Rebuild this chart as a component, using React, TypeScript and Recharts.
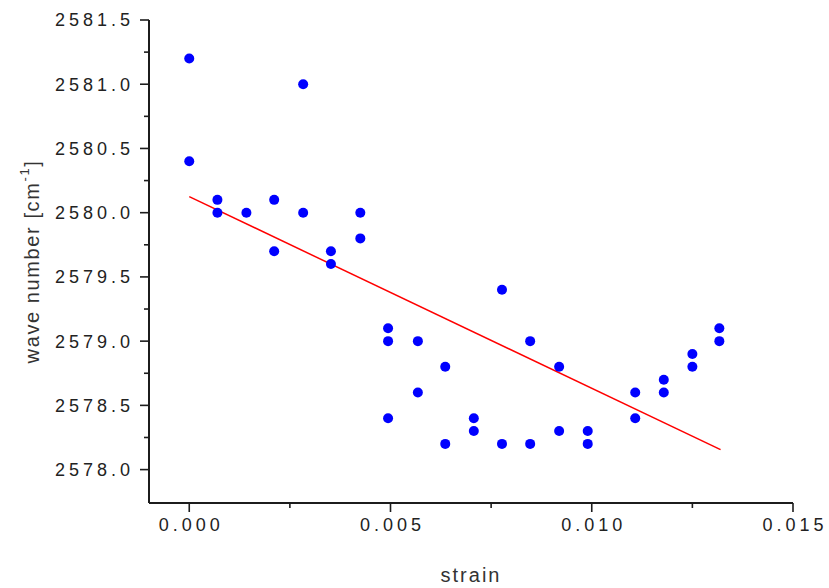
import { Scatter, ScatterChart, XAxis, YAxis } from "recharts"

// strain values of each measured point (columns of the scan)
const strain = [
  0, 0,
  0.0007, 0.0007,
  0.00142,
  0.00211, 0.00211,
  0.00283, 0.00283,
  0.00352, 0.00352,
  0.00425, 0.00425,
  0.00494, 0.00494, 0.00494,
  0.00568, 0.00568,
  0.00636, 0.00636,
  0.00707, 0.00707,
  0.00777, 0.00777,
  0.00847, 0.00847,
  0.00919, 0.00919,
  0.0099, 0.0099,
  0.01108, 0.01108,
  0.01179, 0.01179,
  0.0125, 0.0125,
  0.01317, 0.01317,
]

// wave number [cm-1] for each point above
const waveNumber = [
  2581.2, 2580.4,
  2580.1, 2580.0,
  2580.0,
  2580.1, 2579.7,
  2581.0, 2580.0,
  2579.7, 2579.6,
  2580.0, 2579.8,
  2579.1, 2579.0, 2578.4,
  2579.0, 2578.6,
  2578.8, 2578.2,
  2578.4, 2578.3,
  2579.4, 2578.2,
  2579.0, 2578.2,
  2578.8, 2578.3,
  2578.3, 2578.2,
  2578.6, 2578.4,
  2578.7, 2578.6,
  2578.9, 2578.8,
  2579.1, 2579.0,
]

// linear fit end points
const fitStrain = [0, 0.0132]
const fitWave = [2580.125, 2578.156]

const xMajorTicks = [0, 0.005, 0.01, 0.015]
const xMinorTicks = [0.0025, 0.0075, 0.0125]
const yMajorTicks = [2578.0, 2578.5, 2579.0, 2579.5, 2580.0, 2580.5, 2581.0, 2581.5]
const yMinorTicks = [2578.25, 2578.75, 2579.25, 2579.75, 2580.25, 2580.75, 2581.25]

const points = strain.map((s, i) => ({ x: s, y: waveNumber[i] }))
const fit = fitStrain.map((s, i) => ({ x: s, y: fitWave[i] }))

const AXIS = "#1c1c1c"
const FONT = "'Liberation Sans', Arial, sans-serif"
const TICK_SIZE = 9
const TICK_MARGIN = 6

const near = (v: number, list: number[]) => list.some((t) => Math.abs(t - v) < 1e-9)

function YTick(props: any) {
  const { x, y, payload } = props
  const axisX = x + TICK_SIZE + TICK_MARGIN
  const major = near(payload.value, yMajorTicks)
  return (
    <g>
      <line x1={axisX - (major ? 9 : 5)} x2={axisX} y1={y} y2={y} stroke={AXIS} strokeWidth={1.6} />
      {major && (
        <text x={x} y={y} dy="0.36em" textAnchor="end" fill="#222" fontSize={18} letterSpacing={4} fontFamily={FONT}>
          {payload.value.toFixed(1)}
        </text>
      )}
    </g>
  )
}

function XTick(props: any) {
  const { x, y, payload } = props
  const axisY = y - TICK_SIZE - TICK_MARGIN
  const major = near(payload.value, xMajorTicks)
  return (
    <g>
      <line x1={x} x2={x} y1={axisY} y2={axisY + (major ? 9 : 5)} stroke={AXIS} strokeWidth={1.6} />
      {major && (
        <text x={x + 2} y={y} dy="0.72em" textAnchor="middle" fill="#222" fontSize={18} letterSpacing={4} fontFamily={FONT}>
          {payload.value.toFixed(3)}
        </text>
      )}
    </g>
  )
}

function YTitle(props: any) {
  const { viewBox } = props
  const cy = viewBox.y + viewBox.height / 2
  const cx = 32
  return (
    <text
      x={cx}
      y={cy}
      dy="0.35em"
      transform={`rotate(-90 ${cx} ${cy})`}
      textAnchor="middle"
      fill="#333"
      fontSize={20}
      letterSpacing={1.6}
      fontFamily={FONT}
    >
      wave number [cm
      <tspan fontSize={13} dy="-10">-1</tspan>
      <tspan dy="10">]</tspan>
    </text>
  )
}

function XTitle(props: any) {
  const { viewBox } = props
  const cx = viewBox.x + viewBox.width / 2
  return (
    <text x={cx} y={582} textAnchor="middle" fill="#333" fontSize={20} letterSpacing={2} fontFamily={FONT}>
      strain
    </text>
  )
}

export default function App() {
  return (
    <div style={{ position: "absolute", left: 0, top: 0, width: 829, height: 588, background: "#fff" }}>
      <ScatterChart width={829} height={588} margin={{ top: 20, right: 36, bottom: 0, left: 0 }}>
        <XAxis
          type="number"
          dataKey="x"
          domain={[-0.001, 0.015]}
          ticks={[...xMajorTicks, ...xMinorTicks].sort((a, b) => a - b)}
          interval={0}
          height={85}
          tickSize={TICK_SIZE}
          tickMargin={TICK_MARGIN}
          tickLine={false}
          tick={<XTick />}
          axisLine={{ stroke: AXIS, strokeWidth: 2 }}
          label={<XTitle />}
        />
        <YAxis
          type="number"
          dataKey="y"
          domain={[2577.74, 2581.5]}
          ticks={[...yMajorTicks, ...yMinorTicks].sort((a, b) => a - b)}
          interval={0}
          width={149}
          tickSize={TICK_SIZE}
          tickMargin={TICK_MARGIN}
          tickLine={false}
          tick={<YTick />}
          axisLine={{ stroke: AXIS, strokeWidth: 2 }}
          label={<YTitle />}
        />
        <Scatter
          data={fit}
          line={{ stroke: "#ff0000", strokeWidth: 1.5 }}
          shape={() => <g />}
          isAnimationActive={false}
        />
        <Scatter
          data={points}
          fill="#0000ff"
          shape={(p: any) => <circle cx={p.cx} cy={p.cy} r={5} fill="#0000ff" />}
          isAnimationActive={false}
        />
      </ScatterChart>
    </div>
  )
}
